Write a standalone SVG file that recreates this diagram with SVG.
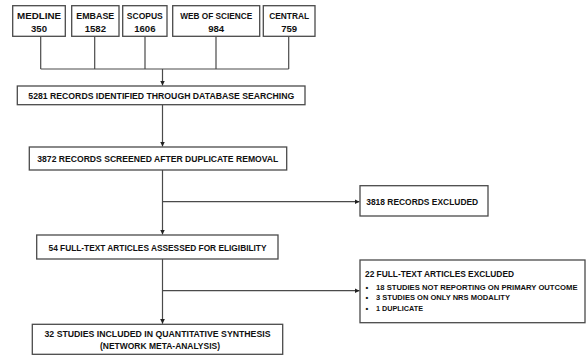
<svg xmlns="http://www.w3.org/2000/svg" width="586" height="355" viewBox="0 0 586 355">
<style>
.box{fill:#fff;stroke:#4a4a4a;stroke-width:1.3}
.t{font-family:"Liberation Sans",Arial,sans-serif;font-weight:bold;font-size:9.6px;fill:#111;text-anchor:middle}
.s{font-family:"Liberation Sans",Arial,sans-serif;font-weight:bold;font-size:7.9px;fill:#111}
.ln{fill:none;stroke:#4a4a4a;stroke-width:1.2}
</style>
<defs>
<marker id="arr" markerUnits="userSpaceOnUse" markerWidth="6" markerHeight="6" refX="5" refY="3" orient="auto">
<path d="M0,0.5 L5,3 L0,5.5 z" fill="#222"/>
</marker>
</defs>
<rect width="586" height="355" fill="#fff"/>
<g id="connectors">
<path class="ln" d="M40.7,36.3 V69 M94.7,36.3 V69 M145,36.3 V69 M216,36.3 V69 M288.7,36.3 V69 M40.7,69 H288.7"/>
<path class="ln" d="M162.5,69 V85.5" marker-end="url(#arr)"/>
<path class="ln" d="M162.5,104.7 V146.5" marker-end="url(#arr)"/>
<path class="ln" d="M162.5,170 V234.5" marker-end="url(#arr)"/>
<path class="ln" d="M162.5,201.7 H359.5" marker-end="url(#arr)"/>
<path class="ln" d="M162.5,259 V323.8" marker-end="url(#arr)"/>
<path class="ln" d="M162.5,290.7 H359.5" marker-end="url(#arr)"/>
</g>
<g id="medline">
<rect class="box" x="12.7" y="5.7" width="52.6" height="30.6"/>
<text class="t" x="39" y="18.5" textLength="44" lengthAdjust="spacingAndGlyphs">MEDLINE</text>
<text class="t" x="39" y="31.5">350</text>
</g>
<g id="embase">
<rect class="box" x="71.7" y="5.7" width="47.3" height="30.6"/>
<text class="t" x="95.3" y="18.5" textLength="38" lengthAdjust="spacingAndGlyphs">EMBASE</text>
<text class="t" x="95.3" y="31.5">1582</text>
</g>
<g id="scopus">
<rect class="box" x="122.7" y="5.7" width="44.3" height="30.6"/>
<text class="t" x="144.8" y="18.5" textLength="36" lengthAdjust="spacingAndGlyphs">SCOPUS</text>
<text class="t" x="144.8" y="31.5">1606</text>
</g>
<g id="wos">
<rect class="box" x="172.7" y="5.7" width="87" height="30.6"/>
<text class="t" x="216.2" y="18.5" textLength="72" lengthAdjust="spacingAndGlyphs">WEB OF SCIENCE</text>
<text class="t" x="216.2" y="31.5">984</text>
</g>
<g id="central">
<rect class="box" x="263.3" y="5.7" width="51.7" height="30.6"/>
<text class="t" x="289.2" y="18.5" textLength="40" lengthAdjust="spacingAndGlyphs">CENTRAL</text>
<text class="t" x="289.2" y="31.5">759</text>
</g>
<g id="identified">
<rect class="box" x="17.3" y="86" width="287.7" height="18.7"/>
<text class="t" x="161.3" y="99.2" textLength="266" lengthAdjust="spacingAndGlyphs">5281 RECORDS IDENTIFIED THROUGH DATABASE SEARCHING</text>
</g>
<g id="screened">
<rect class="box" x="29.3" y="147" width="257.4" height="23"/>
<text class="t" x="157.8" y="161.8" textLength="241" lengthAdjust="spacingAndGlyphs">3872 RECORDS SCREENED AFTER DUPLICATE REMOVAL</text>
</g>
<g id="excluded1">
<rect class="box" x="360" y="185.7" width="128" height="30.3"/>
<text class="t" x="422.2" y="205" textLength="112" lengthAdjust="spacingAndGlyphs">3818 RECORDS EXCLUDED</text>
</g>
<g id="fulltext">
<rect class="box" x="36.7" y="235" width="241.3" height="24"/>
<text class="t" x="157.5" y="250.8" textLength="218" lengthAdjust="spacingAndGlyphs">54 FULL-TEXT ARTICLES ASSESSED FOR ELIGIBILITY</text>
</g>
<g id="excluded2">
<rect class="box" x="360" y="260" width="225" height="62.7"/>
<text class="t" x="365" y="277" style="text-anchor:start" textLength="149" lengthAdjust="spacingAndGlyphs">22 FULL-TEXT ARTICLES EXCLUDED</text>
<text class="s" x="365.5" y="289.5">•</text>
<text class="s" x="376" y="289.5" textLength="201.5" lengthAdjust="spacingAndGlyphs">18 STUDIES NOT REPORTING ON PRIMARY OUTCOME</text>
<text class="s" x="365.5" y="300.4">•</text>
<text class="s" x="376" y="300.4" textLength="134" lengthAdjust="spacingAndGlyphs">3 STUDIES ON ONLY NRS MODALITY</text>
<text class="s" x="365.5" y="311.3">•</text>
<text class="s" x="376" y="311.3" textLength="47" lengthAdjust="spacingAndGlyphs">1 DUPLICATE</text>
</g>
<g id="included">
<rect class="box" x="32.3" y="324.3" width="250.4" height="30"/>
<text class="t" x="157.5" y="337" textLength="226" lengthAdjust="spacingAndGlyphs">32 STUDIES INCLUDED IN QUANTITATIVE SYNTHESIS</text>
<text class="t" x="160" y="348.8" textLength="120" lengthAdjust="spacingAndGlyphs">(NETWORK META-ANALYSIS)</text>
</g>
</svg>
